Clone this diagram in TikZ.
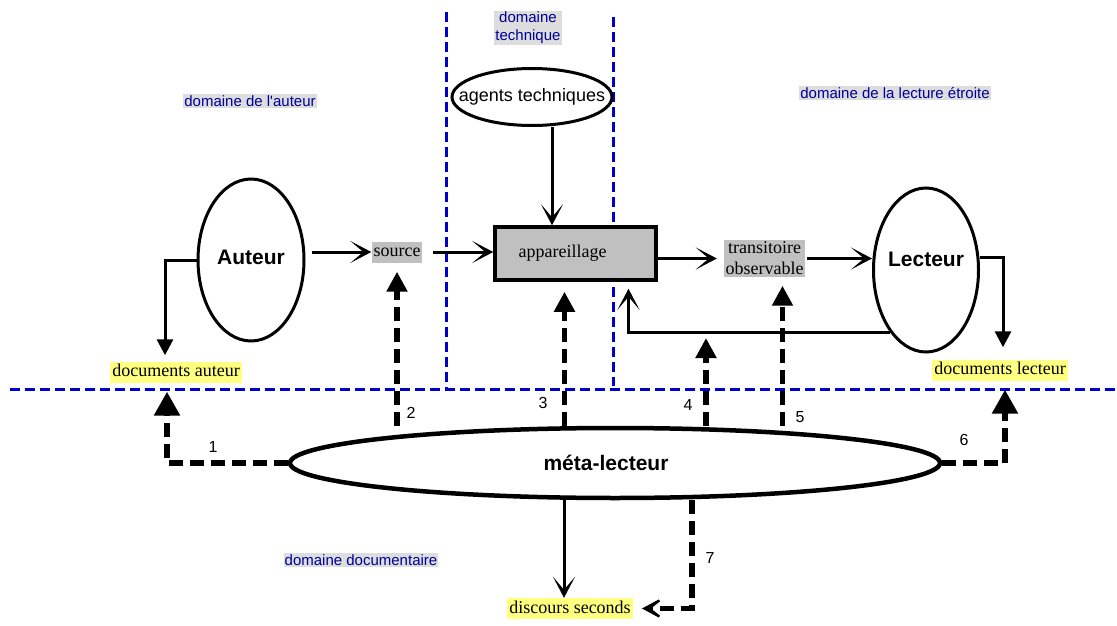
\documentclass[tikz,border=0pt]{standalone}
\usepackage{fontspec}
\setmainfont{Liberation Serif}
\setsansfont{Liberation Sans}
\usetikzlibrary{arrows.meta,shapes.geometric}
\definecolor{zoneblue}{HTML}{0000CC}
\definecolor{zonetext}{HTML}{000099}
\definecolor{zonebg}{HTML}{DDDDDD}
\definecolor{docyellow}{HTML}{FFFF80}
\definecolor{boxgray}{HTML}{C0C0C0}
\tikzset{actor/.style = {shape=ellipse,draw,line width=3pt,fill=white,minimum width=106pt,minimum height=162pt,font=\sffamily\bfseries\fontsize{21}{24}\selectfont}}
\tikzset{zone/.style = {fill=zonebg,text=zonetext,inner sep=1pt,align=center,font=\sffamily\fontsize{15}{18}\selectfont}}
\tikzset{oneline/.style = {text height=13pt,text depth=4pt}}
\tikzset{doc/.style = {fill=docyellow,inner sep=2pt,oneline,font=\fontsize{18}{20}\selectfont}}
\tikzset{obj/.style = {fill=boxgray,inner sep=2pt,font=\fontsize{18}{21}\selectfont}}
\tikzset{num/.style = {font=\sffamily\fontsize{16}{18}\selectfont}}
\tikzset{zoneline/.style = {zoneblue,line width=3pt,dash pattern=on 10pt off 5pt}}
\tikzset{flow/.style = {line width=3pt,-{Stealth[length=21pt,width=22pt,inset=13pt]}}}
\tikzset{flowdoc/.style = {line width=3pt,-{Triangle[length=16pt,width=16pt]}}}
\tikzset{metaflow/.style = {line width=5.5pt,dash pattern=on 14pt off 7pt}}
\tikzset{tipbig/.style = {-{Triangle[length=24pt,width=25pt]}}}
\tikzset{tipsmall/.style = {-{Triangle[length=20pt,width=20pt]}}}

\begin{document}
\begin{tikzpicture}[x=1pt,y=-1pt]
  \useasboundingbox (0,0) rectangle (1117,626);

  % domaines
  \draw[zoneline] (446,12) -- (446,388);
  \draw[zoneline] (613,17) -- (613,386);
  \draw[zoneline] (10,389) -- (1117,389);

  \node[zone] (zaut) at (250,101) {domaine de l\textquotesingle auteur};
  \node[zone] (ztech) at (528,28) {domaine\\technique};
  \node[zone] (zlect) at (895,93) {domaine de la lecture étroite};
  \node[zone] (zdoc) at (361,560) {domaine documentaire};

  \node[actor] (auteur) at (251,260) {\makebox[0pt]{\raisebox{3pt}[\height][\depth]{Auteur}}};
  \node[actor,minimum width=105pt,minimum height=164pt] (lecteur) at (926,270) {\makebox[0pt]{\raisebox{11pt}[\height][\depth]{Lecteur}}};
  \node[shape=ellipse,draw,line width=3pt,minimum width=160pt,minimum height=57pt,font=\sffamily\fontsize{18}{20}\selectfont] (agents) at (532,97) {\makebox[0pt]{agents techniques}};
  \node[draw,fill=boxgray,line width=3.5pt,minimum width=161pt,minimum height=53pt,font=\fontsize{18}{20}\selectfont] (appareil) at (575.5,253.5) {\makebox[0pt]{appareillage\hspace{26pt}}};
  \node[obj,oneline] (source) at (397,252) {source};
  \node[obj,align=center,inner sep=1.5pt] (trans) at (764.5,258.5) {transitoire\\observable};
  \node[shape=ellipse,draw,line width=4.5pt,fill=white,minimum width=650pt,minimum height=70pt,font=\sffamily\bfseries\fontsize{21}{24}\selectfont] (meta) at (615,463) {\makebox[0pt]{méta-lecteur\hspace{18pt}}};

  \node[doc] (docaut) at (176,372) {documents auteur};
  \node[doc] (doclec) at (1000,370) {documents lecteur};
  \node[doc] (discours) at (570,608.5) {discours seconds};

  \draw[flow,shorten <=6pt] (auteur.east |- source) -- (source.west);
  \draw[flow,shorten <=10pt] (source.east) -- (source.east -| appareil.west);
  \draw[flow] ([xshift=20pt]agents.south) -- ([xshift=20pt]agents.south |- appareil.north);
  \draw[flow,shorten >=7pt] (appareil.east |- trans) -- (trans.west);
  \draw[flow,shorten <=2pt] (trans.east) -- (trans.east -| lecteur.west);
  \draw[flow,shorten >=7pt] (lecteur.240) -| ([xshift=53pt]appareil.south);
  \draw[flowdoc,shorten >=6pt] (auteur.west) -| ([xshift=-11pt]docaut.north);
  \draw[flowdoc,shorten >=12pt] ([yshift=13pt]lecteur.east) -| ([xshift=3pt]doclec.north);
  \draw[flow] ([xshift=-6pt]discours.north |- meta.south) -- ([xshift=-6pt]discours.north);

  \coordinate (retour) at (706,333);
  \draw[metaflow,tipbig,shorten >=9pt] (meta.west) -| ([xshift=-9pt]docaut.south);
  \draw[metaflow,tipsmall,shorten >=9pt] (source.south |- meta.north) -- (source.south);
  \draw[metaflow,tipsmall,shorten >=10pt] ([xshift=-11pt]appareil.south |- meta.north) -- ([xshift=-11pt]appareil.south);
  \draw[metaflow,tipsmall,shorten >=5pt] (retour |- meta.north) -- (retour);
  \draw[metaflow,tipsmall,shorten >=9pt] ([xshift=18pt]trans.south |- meta.north) -- ([xshift=18pt]trans.south);
  \draw[metaflow,tipbig,shorten >=9pt] (meta.east) -| ([xshift=5pt]doclec.south);
  \draw[metaflow,-{Stealth[length=28pt,width=30pt,inset=19pt]},shorten >=9pt] ([xshift=77pt]meta.south) |- (discours.east);

  \node[num] (n1) at (213,447) {1};
  \node[num] (n2) at (411,413) {2};
  \node[num] (n3) at (543,403) {3};
  \node[num] (n4) at (688,405) {4};
  \node[num] (n5) at (800,417) {5};
  \node[num] (n6) at (964,440) {6};
  \node[num] (n7) at (710,558) {7};
\end{tikzpicture}
\end{document}
